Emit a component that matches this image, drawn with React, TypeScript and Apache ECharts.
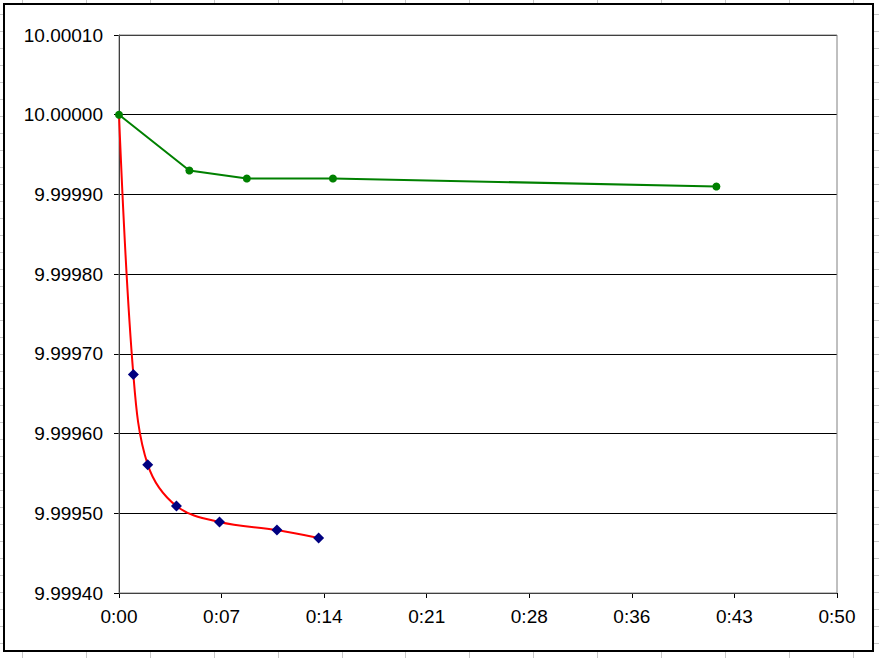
import React, { useEffect, useRef } from "react";
import * as echarts from "echarts";

// time in minutes
const greenTimes = [0, 4.9, 8.9, 14.9, 41.6];
const greenValues = [10.0, 9.99993, 9.99992, 9.99992, 9.99991];

const redTimes = [0, 1.0, 2.0, 4.0, 7.0, 11.0, 13.9];
const redValues = [10.0, 9.999674, 9.999561, 9.999509, 9.999489, 9.999479, 9.999469];

const xTickLabels = ["0:00", "0:07", "0:14", "0:21", "0:28", "0:36", "0:43", "0:50"];
const xMax = 50;
const yMin = 9.9994;
const yMax = 10.0001;
const yStep = 0.0001;

export default function App() {
  const ref = useRef<HTMLDivElement>(null);
  useEffect(() => {
    if (!ref.current) return;
    const chart = echarts.init(ref.current, null, { renderer: "svg" });
    const W = 879;
    const H = 658;
    const gridEls: any[] = [];
    for (let y = 13.5; y < H; y += 17) {
      gridEls.push({
        type: "line",
        z: -10,
        shape: { x1: 0, y1: Math.round(y) + 0.5, x2: W, y2: Math.round(y) + 0.5 },
        style: { stroke: "#c8c8c8", lineWidth: 1 },
      });
    }
    for (let x = 22; x < W; x += 63.9) {
      gridEls.push({
        type: "line",
        z: -10,
        shape: { x1: Math.round(x) + 0.5, y1: 0, x2: Math.round(x) + 0.5, y2: H },
        style: { stroke: "#c8c8c8", lineWidth: 1 },
      });
    }
    gridEls.push({
      type: "rect",
      z: -9,
      shape: { x: 4, y: 4, width: 869, height: 647 },
      style: { fill: "#ffffff", stroke: "#000000", lineWidth: 2 },
    });
    const interval = xMax / 7;
    chart.setOption({
      animation: false,
      backgroundColor: "#ffffff",
      graphic: { elements: gridEls },
      grid: {
        left: 119,
        right: 42,
        top: 35,
        bottom: 65,
        show: true,
        borderColor: "#808080",
        borderWidth: 1,
        backgroundColor: "transparent",
        z: 1,
      },
      xAxis: {
        type: "value",
        min: 0,
        max: xMax,
        interval: interval,
        axisLine: { show: true, onZero: false, lineStyle: { color: "#000", width: 1 } },
        axisTick: { show: true, length: 5, lineStyle: { color: "#000" } },
        splitLine: { show: false },
        axisLabel: {
          margin: 14,
          color: "#000",
          fontFamily: "Liberation Sans, Arial, sans-serif",
          fontSize: 19,
          formatter: (v: number) => xTickLabels[Math.round(v / interval)] ?? "",
        },
      },
      yAxis: {
        type: "value",
        min: yMin,
        max: yMax,
        interval: yStep,
        axisLine: { show: true, lineStyle: { color: "#000", width: 1 } },
        axisTick: { show: true, length: 5, lineStyle: { color: "#000" } },
        splitLine: { show: true, lineStyle: { color: "#000", width: 1 } },
        axisLabel: {
          margin: 16,
          color: "#000",
          fontFamily: "Liberation Sans, Arial, sans-serif",
          fontSize: 19,
          formatter: (v: number) => v.toFixed(5),
        },
      },
      series: [
        {
          type: "line",
          data: redTimes.map((t, i) =>
            i === 0 ? { value: [t, redValues[i]], symbol: "none" } : [t, redValues[i]]
          ),
          smooth: 0.35,
          symbol: "diamond",
          symbolSize: 11,
          lineStyle: { color: "#ff0000", width: 2 },
          itemStyle: { color: "#000080" },
          z: 3,
        },
        {
          type: "line",
          data: greenTimes.map((t, i) => [t, greenValues[i]]),
          symbol: "circle",
          symbolSize: 8,
          lineStyle: { color: "#008000", width: 2 },
          itemStyle: { color: "#008000" },
          z: 4,
        },
      ],
    });
    return () => chart.dispose();
  }, []);
  return (
    <div
      ref={ref}
      style={{ position: "absolute", left: 0, top: 0, width: 879, height: 658 }}
    />
  );
}
